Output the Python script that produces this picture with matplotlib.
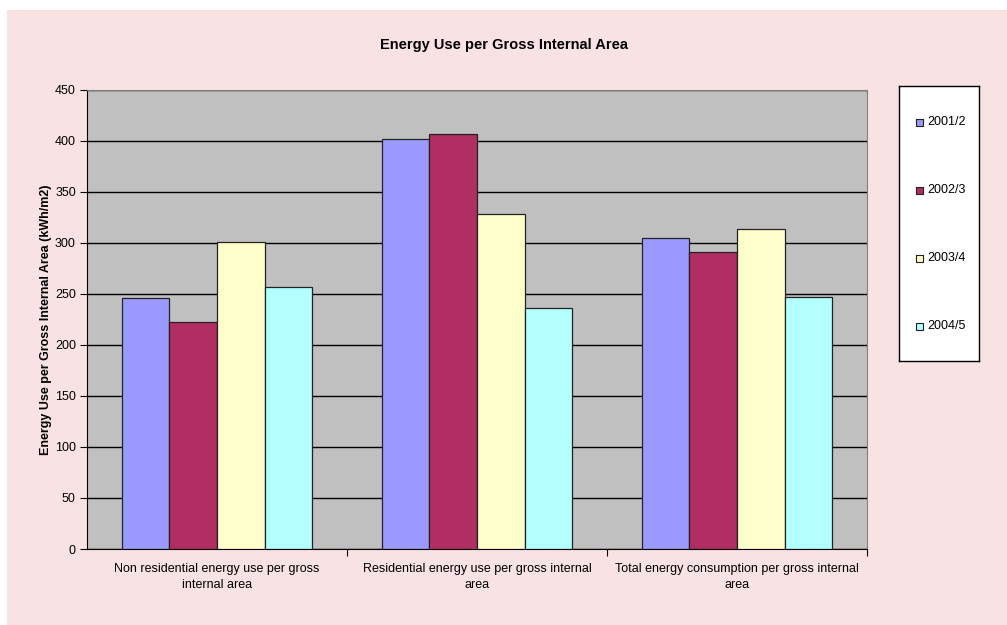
import numpy as np
import matplotlib.pyplot as plt
from matplotlib.patches import Rectangle

plt.rcParams['font.family'] = ['Liberation Sans', 'DejaVu Sans']

categories = ['Non residential energy use per gross\ninternal area',
              'Residential energy use per gross internal\narea',
              'Total energy consumption per gross internal\narea']
years = ['2001/2', '2002/3', '2003/4', '2004/5']
values = {
    '2001/2': [246, 402, 304.5],
    '2002/3': [222.5, 407, 291],
    '2003/4': [301, 328, 313.5],
    '2004/5': [256.5, 236, 247],
}
colours = ['#9999FF', '#B02E62', '#FFFFCC', '#B3FFFF']

fig = plt.figure(figsize=(10.07, 6.25), dpi=100, facecolor='white')
# pink chart area, with a thin white margin at top and left
fig.patches.append(Rectangle((7/1007, 0), 1000/1007, 615/625,
                             transform=fig.transFigure, facecolor='#F9E2E4',
                             edgecolor='none', zorder=-10))

ax = fig.add_axes([87/1007, 1 - 549/625, 780/1007, 459/625])
ax.set_facecolor('#C0C0C0')

x = np.arange(len(categories))
w = 0.183
for i, yr in enumerate(years):
    ax.bar(x + (i - 1.5) * w, values[yr], w, color=colours[i],
           edgecolor='#222222', linewidth=0.9, label=yr, zorder=3)

ax.set_xlim(-0.5, 2.5)
ax.set_ylim(0, 450)
ax.set_yticks(np.arange(0, 451, 50))
ax.yaxis.grid(True, color='black', linewidth=1.0, zorder=1)
ax.set_axisbelow(True)
ax.tick_params(axis='y', direction='out', length=5, labelsize=9, pad=3)

# category labels centred, ticks on group boundaries
ax.set_xticks([0.5, 1.5, 2.5])
ax.set_xticklabels([])
ax.set_xticks(x, minor=True)
ax.set_xticklabels(categories, minor=True, fontsize=9, linespacing=1.5)
ax.tick_params(axis='x', which='major', direction='out', length=5)
ax.tick_params(axis='x', which='minor', length=0, pad=10)

for side in ['top', 'right']:
    ax.spines[side].set_color('#808080')
ax.spines['left'].set_color('black')
ax.spines['bottom'].set_color('black')

ax.set_ylabel('Energy Use per Gross Internal Area (kWh/m2)', fontsize=9,
              fontweight='bold', labelpad=2)
fig.text(0.5, 1 - 45/625, 'Energy Use per Gross Internal Area', ha='center',
         va='center', fontsize=10.5, fontweight='bold')

# legend box on its own axes
lax = fig.add_axes([899/1007, 1 - 361/625, 80/1007, 275/625])
lax.set_xlim(0, 80)
lax.set_ylim(275, 0)
lax.set_xticks([])
lax.set_yticks([])
lax.set_facecolor('white')
for s in lax.spines.values():
    s.set_color('black')
    s.set_linewidth(1.0)
for i, yr in enumerate(years):
    yc = 36 + i * 68
    lax.add_patch(Rectangle((17, yc - 3.5), 7, 7, facecolor=colours[i],
                            edgecolor='#222222', linewidth=0.8))
    lax.text(28, yc, yr, fontsize=9, va='center', ha='left')

fig.savefig('out.png', dpi=100, facecolor=fig.get_facecolor())
